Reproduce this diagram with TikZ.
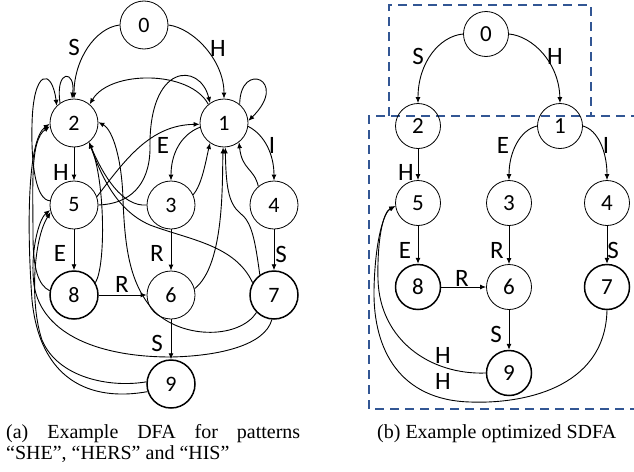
\documentclass[tikz,border=0pt]{standalone}
\usepackage{fontspec}
\setmainfont{Liberation Serif}
\newfontfamily\lblfont{Carlito}
\usetikzlibrary{arrows.meta}
\definecolor{boxblue}{RGB}{50,86,148}
\begin{document}
\begin{tikzpicture}[x=1pt,y=-1pt,
  st/.style={circle,draw,line width=0.8pt,minimum size=48pt,inner sep=0pt,font=\lblfont\fontsize{22}{22}\selectfont},
  rst/.style={circle,draw,line width=0.8pt,minimum size=45pt,inner sep=0pt,font=\lblfont\fontsize{23}{23}\selectfont},
  acc/.style={line width=1.5pt},
  arr/.style={line width=0.9pt,-{Latex[length=6pt,width=5pt]}},
  lab/.style={font=\lblfont\fontsize{25}{25}\selectfont,inner sep=0pt},
  captext/.style={font=\fontsize{20}{16}\selectfont,inner sep=0pt},
  dbox/.style={draw=boxblue,line width=2pt,dash pattern=on 9pt off 6pt}
]
\useasboundingbox (0,0) rectangle (634,471);

% dashed boxes (right)
\draw[dbox] (389,116) -- (389,5) -- (591,5) -- (591,116);
\draw[dbox] (640,116) -- (369,116) -- (369,409) -- (640,409);

% ---------------- left DFA ----------------
\node[st] (a0) at (144,25) {0};
\node[st] (a2) at (74,123) {2};
\node[st] (a1) at (224,123) {1};
\node[st] (a5) at (74,205) {5};
\node[st] (a3) at (171,205) {3};
\node[st] (a4) at (274,205) {4};
\node[st,acc] (a8) at (74,295) {8};
\node[st] (a6) at (171,295) {6};
\node[st,acc] (a7) at (274,295) {7};
\node[st,acc] (a9) at (171,384) {9};

\draw[arr] (a0.west) .. controls (95,28) and (74,60) .. (a2.north);
\draw[arr] (a0.east) .. controls (193,28) and (224,60) .. (a1.north);
\draw[arr] (a2) -- (a5);
\draw[arr] (a5) -- (a8);
\draw[arr] (a3) -- (a6);
\draw[arr] (a4) -- (a7);
\draw[arr] (a8) -- (a6);
\draw[arr] (a6) -- (a9);
\draw[arr] (a1.190) .. controls (180,135) and (171,155) .. (a3.north);
\draw[arr] (a1.-8) .. controls (265,135) and (274,155) .. (a4.north);

% self loops
\draw[arr] (a2.125) .. controls (55,68) and (76,70) .. (a2.95);
\draw[arr] (a1.50) .. controls (240,60) and (290,80) .. (a1.5);

% to state 2
\draw[arr] (a5.170) .. controls (36,200) and (31,165) .. (32,125) .. controls (33,68) and (52,68) .. (a2.135);
\draw[arr] (a1.130) .. controls (190,70) and (110,70) .. (a2.50);
\draw[arr] (a3.180) .. controls (122,207) and (103,175) .. (a2.-52);
\draw[arr] (a8.30) .. controls (106,265) and (105,180) .. (a2.-52);
\draw[arr] (a7.150) .. controls (235,245) and (190,240) .. (150,225) .. controls (115,210) and (100,172) .. (a2.-52);
\draw[arr] (a7.225) .. controls (240,338) and (185,340) .. (155,312) .. controls (130,285) and (125,250) .. (123,200) .. controls (122,160) and (113,130) .. (a2.2);
\draw[arr] (a9.198) .. controls (90,402) and (40,380) .. (32,300) .. controls (27,230) and (27,140) .. (a2.182);
\draw[arr] (a8.170) .. controls (38,285) and (33,268) .. (33,235) .. controls (33,185) and (30,140) .. (a2.188);

% to state 1
\draw[arr] (a5.east) .. controls (130,204) and (149,185) .. (150,150) .. controls (148,62) and (200,62) .. (a1.125);
\draw[arr] (a5.20) .. controls (125,160) and (150,125) .. (a1.183);
\draw[arr] (a6.15) .. controls (225,265) and (222,180) .. (a1.-92);
\draw[arr] (a7.125) .. controls (255,240) and (252,222) .. (240,213) .. controls (228,203) and (226,185) .. (a1.-87);
\draw[arr] (a3.25) .. controls (202,185) and (206,160) .. (a1.-125);
\draw[arr] (a4.130) .. controls (254,168) and (242,170) .. (a1.-52);

% to state 5
\draw[arr] (a7.-95) .. controls (265,345) and (220,356) .. (171,357) .. controls (100,357) and (42,335) .. (34,285) .. controls (30,255) and (38,220) .. (a5.192);
\draw[arr] (a9.175) .. controls (110,388) and (58,378) .. (42,340) .. controls (30,305) and (33,240) .. (a5.197);

% labels left
\node[lab] (la1) at (74,47) {S};
\node[lab] (la2) at (218,48) {H};
\node[lab] (la3) at (61,172) {H};
\node[lab] (la4) at (163,145) {E};
\node[lab] (la5) at (272,145) {I};
\node[lab] (la6) at (60,253) {E};
\node[lab] (la7) at (157,253) {R};
\node[lab] (la8) at (281,254) {S};
\node[lab] (la9) at (122,284) {R};
\node[lab] (la10) at (157,343) {S};

% ---------------- right SDFA ----------------
\node[rst] (r0) at (486,34) {0};
\node[rst] (r2) at (418,126) {2};
\node[rst] (r1) at (560,126) {1};
\node[rst] (r5) at (418,203) {5};
\node[rst] (r3) at (509,203) {3};
\node[rst] (r4) at (607,203) {4};
\node[rst,acc] (r8) at (418,287) {8};
\node[rst] (r6) at (509,287) {6};
\node[rst,acc] (r7) at (607,287) {7};
\node[rst,acc] (r9) at (509,373) {9};

\draw[arr] (r0.west) .. controls (440,36) and (418,62) .. (r2.north);
\draw[arr] (r0.east) .. controls (532,36) and (559,62) .. (r1.north);
\draw[arr] (r1.west) .. controls (520,130) and (509,152) .. (r3.north);
\draw[arr] (r1.east) .. controls (598,130) and (607,152) .. (r4.north);
\draw[arr] (r2) -- (r5);
\draw[arr] (r5) -- (r8);
\draw[arr] (r3) -- (r6);
\draw[arr] (r4) -- (r7);
\draw[arr] (r8) -- (r6);
\draw[arr] (r6) -- (r9);
\draw[arr] (r9.west) .. controls (430,375) and (380,340) .. (378,280) .. controls (377,240) and (383,212) .. (r5.188);
\draw[arr] (r7.south) .. controls (605,390) and (520,404) .. (470,402) .. controls (400,400) and (373,350) .. (374,290) .. controls (375,240) and (384,212) .. (r5.188);

\node[lab] (lb1) at (418,56) {S};
\node[lab] (lb2) at (555,56) {H};
\node[lab] (lb3) at (503,145) {E};
\node[lab] (lb4) at (606,145) {I};
\node[lab] (lb5) at (406,172) {H};
\node[lab] (lb6) at (405,250) {E};
\node[lab] (lb7) at (497,250) {R};
\node[lab] (lb8) at (613,250) {S};
\node[lab] (lb9) at (462,278) {R};
\node[lab] (lb10) at (496,334) {S};
\node[lab] (lb11) at (443,355) {H};
\node[lab] (lb12) at (443,381) {H};

% captions
\node[captext,anchor=base west] (capA1) at (6,438) {\makebox[294pt][s]{(a) Example DFA for patterns}};
\node[captext,anchor=base west] (capA2) at (6,459) {“SHE”, “HERS” and “HIS”};
\node[captext,anchor=base west] (capB) at (377,438) {(b) Example optimized SDFA};
\end{tikzpicture}
\end{document}
